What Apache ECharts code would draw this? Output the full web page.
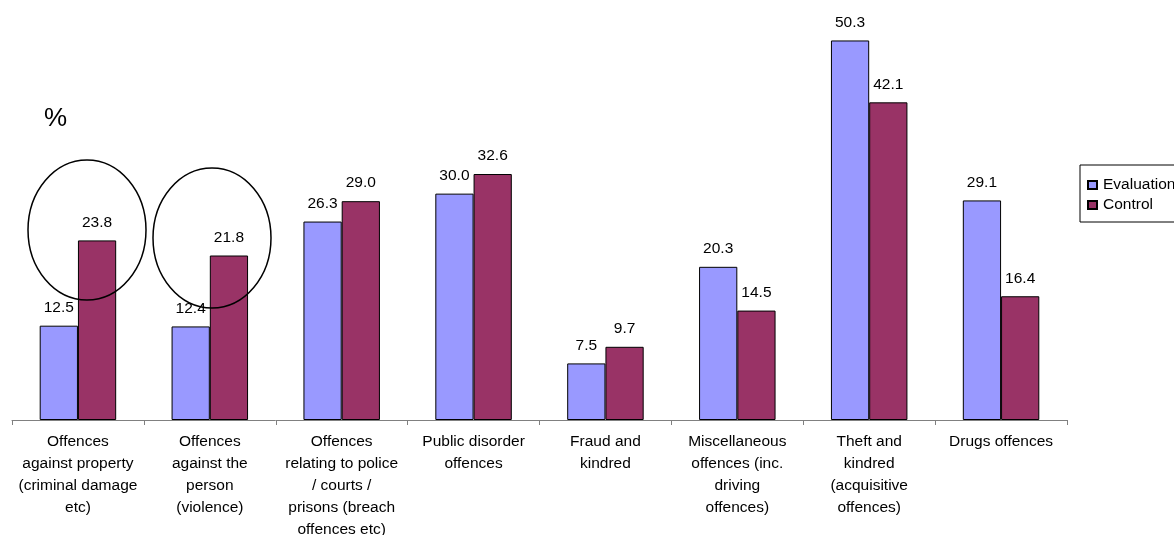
<!DOCTYPE html>
<html>
<head>
<meta charset="utf-8">
<script src="https://cdn.jsdelivr.net/npm/echarts@6/dist/echarts.min.js"></script>
<style>
  html,body{margin:0;padding:0;background:#fff;}
  #chart{width:1174px;height:535px;}
</style>
</head>
<body>
<div id="chart"></div>
<script>
// categories (line breaks as in the picture)
var categories = [
  'Offences\nagainst property\n(criminal damage\netc)',
  'Offences\nagainst the\nperson\n(violence)',
  'Offences\nrelating to police\n/ courts /\nprisons (breach\noffences etc)',
  'Public disorder\noffences',
  'Fraud and\nkindred',
  'Miscellaneous\noffences (inc.\ndriving\noffences)',
  'Theft and\nkindred\n(acquisitive\noffences)',
  'Drugs offences'
]
var evaluation = [12.5, 12.4, 26.3, 30.0, 7.5, 20.3, 50.3, 29.1]
var control = [23.8, 21.8, 29.0, 32.6, 9.7, 14.5, 42.1, 16.4]

var font = '"Liberation Sans", Arial, sans-serif'
var fs = 15.5

var myChart = echarts.init(document.getElementById('chart'))

var labelStyle = {
  show: true,
  position: 'top',
  distance: 10,
  color: '#000',
  fontSize: fs,
  fontFamily: font,
  formatter: function (p) { return p.value.toFixed(1) }
}

var option = {
  animation: false,
  backgroundColor: '#fff',
  grid: { left: 12, right: 107, top: 5, bottom: 115, outerBoundsMode: 'none', containLabel: false },
  legend: {
    orient: 'vertical',
    left: 1080,
    top: 165,
    padding: [12, 8, 9, 7],
    itemWidth: 9,
    itemHeight: 8,
    itemGap: 4,
    borderColor: '#000',
    borderWidth: 1,
    icon: 'rect',
    textStyle: { fontSize: fs, fontFamily: font, color: '#000', padding: [0, 0, 0, 1] },
    data: ['Evaluation', 'Control']
  },
  xAxis: {
    type: 'category',
    data: categories,
    axisLine: { lineStyle: { color: '#808080', width: 1 } },
    axisTick: { show: true, length: 5, lineStyle: { color: '#808080' } },
    axisLabel: {
      interval: 0,
      margin: 11,
      color: '#000',
      fontSize: fs,
      fontFamily: font,
      lineHeight: 22,
      align: 'center'
    }
  },
  yAxis: {
    type: 'value',
    min: 0,
    max: 55,
    show: false,
    splitLine: { show: false }
  },
  series: [
    {
      name: 'Evaluation',
      type: 'bar',
      data: evaluation,
      barGap: '0%',
      barCategoryGap: '42%',
      itemStyle: { color: '#9999FF', borderColor: '#000', borderWidth: 1 },
      label: labelStyle
    },
    {
      name: 'Control',
      type: 'bar',
      data: control,
      itemStyle: { color: '#993366', borderColor: '#000', borderWidth: 1 },
      label: labelStyle
    }
  ],
  graphic: [
    {
      type: 'text',
      left: 44,
      top: 106,
      style: { text: '%', fontSize: 26, fontFamily: font, fill: '#000' }
    },
    // 圈出前两组
    {
      type: 'ellipse',
      shape: { cx: 87, cy: 230, rx: 59, ry: 70 },
      style: { fill: 'none', stroke: '#000', lineWidth: 1.5 },
      z: 100
    },
    {
      type: 'ellipse',
      shape: { cx: 212, cy: 238, rx: 59, ry: 70 },
      style: { fill: 'none', stroke: '#000', lineWidth: 1.5 },
      z: 100
    }
  ]
}

myChart.setOption(option, true)
</script>
</body>
</html>
